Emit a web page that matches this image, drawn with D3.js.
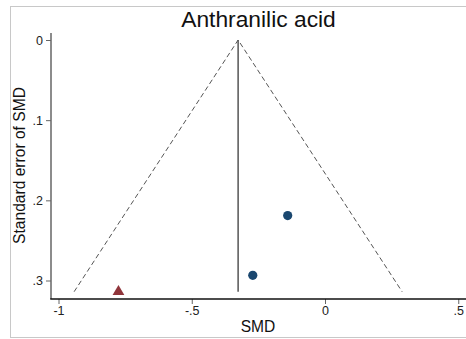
<!DOCTYPE html>
<html><head><meta charset="utf-8">
<script src="https://cdn.jsdelivr.net/npm/d3@7"></script>
<style>html,body{margin:0;padding:0;background:#fff;}svg{display:block;}</style>
</head><body>
<svg id="chart" width="466" height="339"></svg>
<script>
const title = "Anthranilic acid";
const xLabel = "SMD";
const yLabel = "Standard error of SMD";
const studySMD = [-0.140, -0.271, -0.775];
const studySE = [0.219, 0.2935, 0.314];
const studyShape = ["circle", "circle", "triangle"];
const pooledSMD = -0.326;
const xTicks = [-1, -0.5, 0, 0.5];
const xTickLabels = ["-1", "-.5", "0", ".5"];
const yTicks = [0, 0.1, 0.2, 0.3];
const yTickLabels = ["0", ".1", ".2", ".3"];

const svg = d3.select("#chart");
const font = "'Liberation Sans', Arial, Helvetica, sans-serif";

// outer frame
svg.append("rect").attr("x", 10.5).attr("y", 6.5).attr("width", 470).attr("height", 331)
  .attr("fill", "#fff").attr("stroke", "#c8c8c8").attr("stroke-width", 1);

const x = d3.scaleLinear().domain([-1, 0]).range([58.5, 325]);
const y = d3.scaleLinear().domain([0, 0.3]).range([40, 280.5]);

const xAxisY = 299;
const yAxisX = 51;

const maxSE = d3.max(studySE);

// funnel dashed lines
const lo = pooledSMD - 1.96 * maxSE, hi = pooledSMD + 1.96 * maxSE;
const line = d3.line().x(d => x(d[0])).y(d => y(d[1]));
svg.append("path").attr("d", line([[lo, maxSE], [pooledSMD, 0], [hi, maxSE]]))
  .attr("fill", "none").attr("stroke", "#555").attr("stroke-width", 1)
  .attr("stroke-dasharray", "5,3");

// pooled vertical line
svg.append("path").attr("d", line([[pooledSMD, 0], [pooledSMD, maxSE]]))
  .attr("fill", "none").attr("stroke", "#555").attr("stroke-width", 1.5);

// y axis
const yAxis = d3.axisLeft(y).tickValues(yTicks).tickFormat((d, i) => yTickLabels[i])
  .tickSize(5).tickSizeOuter(0).tickPadding(3);
const gy = svg.append("g").attr("transform", `translate(${yAxisX},0)`).call(yAxis);
gy.select(".domain").remove();
gy.append("line").attr("x1", 0).attr("x2", 0).attr("y1", 33).attr("y2", xAxisY)
  .attr("stroke", "#666").attr("stroke-width", 1.5);
gy.selectAll(".tick line").attr("stroke", "#666");
gy.selectAll(".tick text").attr("font-family", font).attr("font-size", 12.5).attr("fill", "#222");

// x axis
const xAxis = d3.axisBottom(x).tickValues(xTicks).tickFormat((d, i) => xTickLabels[i])
  .tickSize(5).tickSizeOuter(0).tickPadding(2);
const gx = svg.append("g").attr("transform", `translate(0,${xAxisY})`).call(xAxis);
gx.select(".domain").remove();
gx.append("line").attr("x1", yAxisX - 0.75).attr("x2", 466).attr("y1", 0).attr("y2", 0)
  .attr("stroke", "#111").attr("stroke-width", 1.5);
gx.selectAll(".tick line").attr("stroke", "#666");
gx.selectAll(".tick text").attr("font-family", font).attr("font-size", 12.5).attr("fill", "#222");

// points
const pts = studySMD.map((v, i) => ({x: v, se: studySE[i], shape: studyShape[i]}));
svg.selectAll("circle.pt").data(pts.filter(p => p.shape === "circle")).enter()
  .append("circle").attr("class", "pt")
  .attr("cx", d => x(d.x)).attr("cy", d => y(d.se)).attr("r", 4.6)
  .attr("fill", "#1a476f");
const tri = d3.symbol().type(d3.symbolTriangle).size(60);
svg.selectAll("path.tri").data(pts.filter(p => p.shape === "triangle")).enter()
  .append("path").attr("class", "tri")
  .attr("d", tri)
  .attr("transform", d => `translate(${x(d.x)},${y(d.se)})`)
  .attr("fill", "#90353b");

// title
svg.append("text").attr("x", 258.5).attr("y", 27).attr("text-anchor", "middle")
  .attr("font-family", font).attr("font-size", 22.8).attr("fill", "#111").text(title);
// x label
svg.append("text").attr("x", 258).attr("y", 332).attr("text-anchor", "middle")
  .attr("font-family", font).attr("font-size", 15.6).attr("fill", "#111").text(xLabel);
// y label
svg.append("text").attr("transform", "translate(24.5,165.5) rotate(-90)").attr("text-anchor", "middle")
  .attr("font-family", font).attr("font-size", 15.6).attr("fill", "#111").text(yLabel);
</script>
</body></html>
